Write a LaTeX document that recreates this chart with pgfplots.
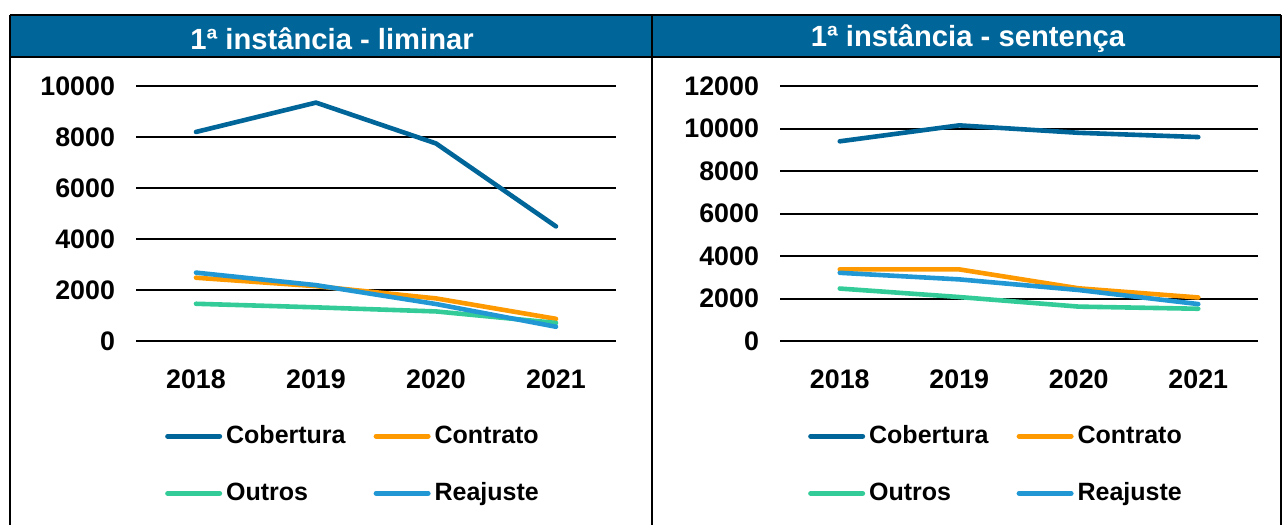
\documentclass[border=0pt]{standalone}
\usepackage{pgfplots}
\pgfplotsset{compat=1.18}
\usepackage{fontspec}
\setmainfont{Liberation Sans}
\definecolor{barblue}{RGB}{0,102,153}
\definecolor{cobcol}{RGB}{0,101,153}
\definecolor{concol}{RGB}{255,153,0}
\definecolor{outcol}{RGB}{51,204,153}
\definecolor{reacol}{RGB}{33,152,212}
\pgfplotsset{
  panel/.style={
    scale only axis,
    height=127.65pt,
    xmin=-0.5, xmax=3.5,
    xtick={0,1,2,3},
    xticklabels={2018,2019,2020,2021},
    ymin=0,
    ymajorgrids,
    grid style={black, line width=1pt},
    axis line style={draw=none},
    major tick length=0pt,
    tick style={draw=none},
    scaled y ticks=false,
    /pgf/number format/1000 sep={},
    /pgf/number format/assume math mode=true,
    ticklabel style={font=\fontsize{13.4}{15}\selectfont\bfseries},
    xticklabel style={yshift=-10.5pt},
    yticklabel style={xshift=-7pt},
    clip=false,
    legend columns=2,
    legend cell align=left,
    legend image code/.code={\draw[##1, line width=2.5pt, line cap=round] (0pt,0pt) -- (26pt,0pt);},
    legend style={at={(0.5,0)}, anchor=north, xshift=-11pt, yshift=-38pt,
      draw=none, fill=none, font=\fontsize{12.5}{14}\selectfont\bfseries,
      /tikz/every even column/.append style={column sep=12pt},
      row sep=14pt},
    every axis plot/.append style={line width=2.3pt, line join=round, line cap=round},
  }
}
\begin{document}
\begin{tikzpicture}
\path[use as bounding box] (0,0) rectangle (641.5pt,262.5pt);
% title bars and frame
\fill[barblue] (5pt,255pt) rectangle (640.5pt,234pt);
\draw[black, line width=1pt] (5pt,255pt) -- (640.5pt,255pt);
\draw[black, line width=1.2pt] (5pt,234pt) -- (640.5pt,234pt);
\draw[black, line width=1pt] (5pt,255pt) -- (5pt,0pt);
\draw[black, line width=1pt] (326pt,255pt) -- (326pt,0pt);
\draw[black, line width=1pt] (640.5pt,255pt) -- (640.5pt,0pt);
\node[text=white, font=\fontsize{14.6}{16}\selectfont\bfseries] at (166pt,243pt) {1ª instância - liminar};
\node[text=white, font=\fontsize{14.6}{16}\selectfont\bfseries] at (484pt,243pt) {1ª instância - sentença};

\begin{axis}[panel, at={(68pt,91.85pt)}, anchor=south west,
  width=240pt, ymax=10000, ytick={0,2000,4000,6000,8000,10000}]
\addplot[color=cobcol] coordinates {(0,8200) (1,9350) (2,7750) (3,4500)};
\addplot[color=concol] coordinates {(0,2490) (1,2160) (2,1680) (3,880)};
\addplot[color=outcol] coordinates {(0,1470) (1,1330) (2,1170) (3,720)};
\addplot[color=reacol] coordinates {(0,2690) (1,2200) (2,1460) (3,570)};
\legend{Cobertura,Contrato,Outros,Reajuste}
\end{axis}

\begin{axis}[panel, at={(390pt,91.85pt)}, anchor=south west,
  width=239pt, ymax=12000, ytick={0,2000,4000,6000,8000,10000,12000}]
\addplot[color=cobcol] coordinates {(0,9400) (1,10150) (2,9800) (3,9600)};
\addplot[color=concol] coordinates {(0,3380) (1,3380) (2,2490) (3,2060)};
\addplot[color=outcol] coordinates {(0,2480) (1,2080) (2,1630) (3,1530)};
\addplot[color=reacol] coordinates {(0,3220) (1,2910) (2,2410) (3,1750)};
\legend{Cobertura,Contrato,Outros,Reajuste}
\end{axis}
\end{tikzpicture}
\end{document}
